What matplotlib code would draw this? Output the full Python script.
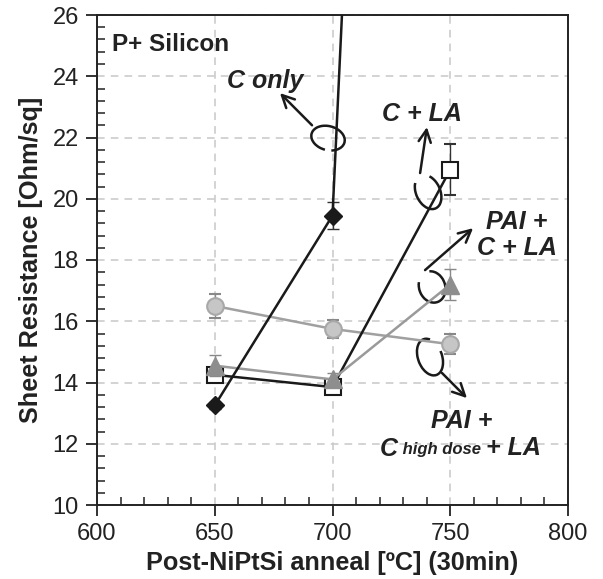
import matplotlib
matplotlib.use("Agg")
from matplotlib import pyplot as plt
from matplotlib.patches import Arc
from matplotlib.ticker import MultipleLocator
from matplotlib.transforms import IdentityTransform

plt.rcParams['font.family'] = ['Liberation Sans', 'DejaVu Sans']

# data
temps = [650, 700, 750]
c_only = [13.25, 19.45, 101.0]
c_only_err = [0.1, 0.45, 0.0]
c_la = [14.25, 13.85, 20.95]
c_la_err = [0.15, 0.15, 0.83]
pai_c_la = [14.55, 14.1, 17.2]
pai_c_la_err = [0.35, 0.2, 0.5]
pai_hd_la = [16.5, 15.75, 15.25]
pai_hd_la_err = [0.4, 0.3, 0.32]

fig = plt.figure(figsize=(6.03, 5.79), dpi=100)
ax = fig.add_axes([97 / 603, 74 / 579, 471 / 603, 490 / 579])

gray = '#8e8e8e'
lgray = '#c6c6c6'

ax.errorbar(temps, pai_hd_la, yerr=pai_hd_la_err, color='#a0a0a0', lw=1.8,
            marker='o', ms=12, mfc=lgray, mec='#a8a8a8', mew=1.5,
            ecolor='#888888', elinewidth=1, capsize=4, zorder=3)
ax.errorbar(temps, pai_c_la, yerr=pai_c_la_err, color='#9a9a9a', lw=1.8,
            marker='^', ms=13, mfc=gray, mec=gray,
            ecolor='#888888', elinewidth=1, capsize=4, zorder=4)
ax.errorbar(temps, c_la, yerr=c_la_err, color='#1a1a1a', lw=1.8,
            marker='s', ms=11, mfc='white', mec='#1a1a1a', mew=1.5,
            ecolor='#333333', elinewidth=1, capsize=4, zorder=3)
ax.errorbar(temps, c_only, yerr=c_only_err, color='#1a1a1a', lw=1.8,
            marker='D', ms=9, mfc='#1a1a1a', mec='#1a1a1a',
            ecolor='#333333', elinewidth=1, capsize=4, zorder=5)

ax.set_xlim(600, 800)
ax.set_ylim(10, 26)
ax.xaxis.set_major_locator(MultipleLocator(50))
ax.xaxis.set_minor_locator(MultipleLocator(10))
ax.yaxis.set_major_locator(MultipleLocator(2))
ax.yaxis.set_minor_locator(MultipleLocator(0.4))
ax.tick_params(which='major', direction='out', length=8, width=1.3,
               labelsize=17, colors='#222222', pad=5)
ax.tick_params(which='minor', direction='in', length=6, width=1.1,
               colors='#222222')
ax.grid(True, which='major', color='#c8c8c8', ls=(0, (5, 4)), lw=1.1)
ax.set_axisbelow(True)
for s in ax.spines.values():
    s.set_linewidth(1.4)
    s.set_color('#222222')

ax.set_xlabel('Post-NiPtSi anneal [ºC] (30min)', fontsize=18.2,
              fontweight='bold', color='#222222', labelpad=4)
ax.set_ylabel('Sheet Resistance [Ohm/sq]', fontsize=18.2,
              fontweight='bold', color='#222222', labelpad=7)

ax.text(606.4, 25.05, 'P+ Silicon', fontsize=17.5, fontweight='bold',
        color='#222222', ha='left', va='center')

lab = dict(fontsize=18, fontweight='bold', style='italic', color='#222222')
ax.text(671.3, 23.85, 'C only', ha='center', va='center', **lab)
ax.text(738.0, 22.76, 'C + LA', ha='center', va='center', **lab)
ax.text(778.3, 18.82, 'PAI +\nC + LA', ha='center', va='center',
        linespacing=1.1, **lab)
ax.text(755.0, 12.74, 'PAI +', ha='center', va='center', **lab)
t1 = ax.text(720.2, 11.83, 'C', ha='left', va='center', **lab)
t2 = ax.annotate(' high dose ', xy=(1, 0.18), xycoords=t1, ha='left',
                 va='bottom', fontsize=12, fontweight='bold', style='italic',
                 color='#222222')
ax.annotate('+ LA', xy=(1, 0), xycoords=t2, xytext=(0, -2.2),
            textcoords='offset points', ha='left', va='bottom', **lab)

arrows = [((691.3, 22.4), (677.7, 23.45)),
          ((737.2, 20.84), (740.1, 22.34)),
          ((739.3, 17.67), (759.7, 19.04)),
          ((746.5, 14.31), (757.1, 13.49))]
for tail, tip in arrows:
    ax.annotate('', xy=tip, xytext=tail,
                arrowprops=dict(arrowstyle='->', lw=1.8, color='#1a1a1a',
                                mutation_scale=22, shrinkA=0, shrinkB=0))

fig.canvas.draw()
# loops: centre in data, size in pixels, angle, arc range
loops = [((698.1, 21.98), 34, 24, -15, 300, 630),
         ((740.6, 20.22), 24, 36, 25, 120, 420),
         ((742.3, 17.12), 26, 32, 20, 140, 440),
         ((741.4, 14.83), 24, 38, 20, 70, 370)]
for c, w, h, ang, t_a, t_b in loops:
    cx, cy = ax.transData.transform(c)
    ax.add_patch(Arc((cx, cy), w, h, angle=ang, theta1=t_a, theta2=t_b,
                     transform=IdentityTransform(), lw=1.8, color='#1a1a1a',
                     clip_on=False))

fig.savefig('out.png', dpi=100)
